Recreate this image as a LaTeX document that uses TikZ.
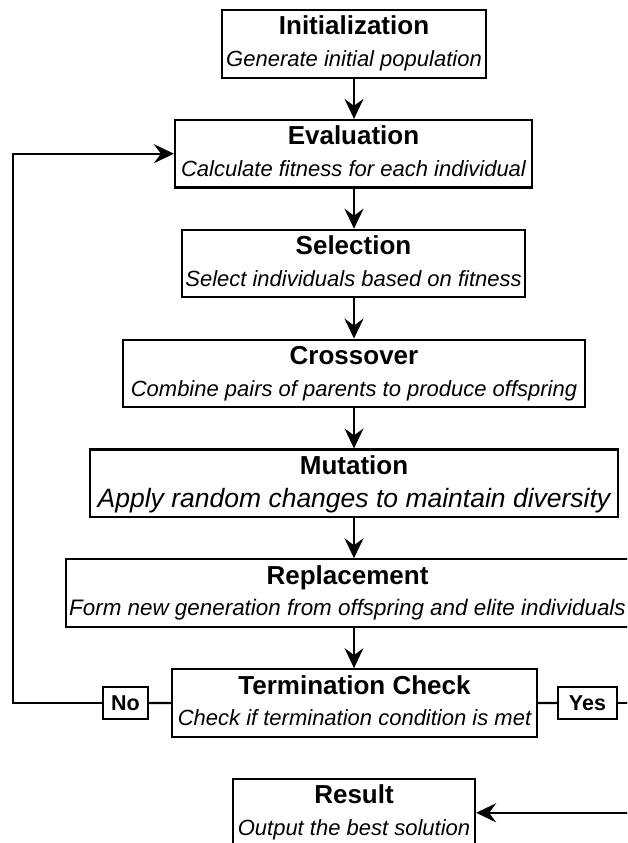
\documentclass[tikz,border=0pt]{standalone}
\usepackage{fontspec}
\setmainfont{Liberation Sans}
\usetikzlibrary{arrows.meta}
\begin{document}
\begin{tikzpicture}[x=1pt,y=-1pt,
  box/.style={draw=black, line width=2.2pt, fill=white, rectangle, minimum height=67.5pt, inner sep=0pt, anchor=north},
  head/.style={font=\fontsize{26}{26}\selectfont\bfseries, anchor=base, inner sep=0pt},
  sub/.style={font=\fontsize{22}{22}\selectfont\itshape, anchor=base, inner sep=0pt},
  lab/.style={draw=black, line width=2.2pt, fill=white, font=\fontsize{21.5}{21.5}\selectfont\bfseries, minimum height=32pt, inner sep=0pt},
  conn/.style={line width=2.2pt},
  arr/.style={conn, -{Stealth[length=20pt,width=19pt,inset=7pt]}}
]
\useasboundingbox (0,0) rectangle (627,843);
\clip (0,0) rectangle (627,843);

% boxes
\node[box, minimum width=264pt] (init)  at (354,9) {};
\node[box, minimum width=357pt] (eval)  at (353.5,118.85) {};
\node[box, minimum width=343pt] (sel)   at (353.5,228.7) {};
\node[box, minimum width=462pt] (cross) at (354,338.55) {};
\node[box, minimum width=528pt] (mut)   at (354,448.4) {};
\node[box, minimum width=563pt] (rep)   at (347.5,558.25) {};
\node[box, minimum width=365pt] (term)  at (354.5,668.1) {};
\node[box, minimum width=242pt] (res)   at (354,777.95) {};

% texts
\node[head] (initH) at (354,35) {Initialization};
\node[sub]  (initS) at (354,66.5) {Generate initial population};
\node[head] (evalH) at (353.5,144.85) {Evaluation};
\node[sub]  (evalS) at (353.5,176.35) {Calculate fitness for each individual};
\node[head] (selH) at (353.5,254.7) {Selection};
\node[sub]  (selS) at (353.5,286.2) {Select individuals based on fitness};
\node[head] (crossH) at (354,364.55) {Crossover};
\node[sub]  (crossS) at (354,396.05) {Combine pairs of parents to produce offspring};
\node[head] (mutH) at (354,474.4) {Mutation};
\node[sub, font=\fontsize{26.5}{26.5}\selectfont\itshape] (mutS) at (354,507.4) {Apply random changes to maintain diversity};
\node[head] (repH) at (347.5,584.25) {Replacement};
\node[sub, font=\fontsize{22.4}{22.4}\selectfont\itshape] (repS) at (347.5,615.75) {Form new generation from offspring and elite individuals};
\node[head] (termH) at (354.5,694.1) {Termination Check};
\node[sub]  (termS) at (354.5,725.6) {Check if termination condition is met};
\node[head] (resH) at (354,803.95) {Result};
\node[sub]  (resS) at (354,835.45) {Output the best solution};

% decision labels
\node[lab, minimum width=45pt] (no)  at (125.5,703) {No};
\node[lab, minimum width=59pt] (yes) at (587.5,703) {Yes};

% helper coordinates
\coordinate (loop) at (13,0);
\coordinate (turn) at (660,0);

% connectors
\draw[arr] (init.south) -- (init.south |- eval.north);
\draw[arr] (354,186.35) -- (354,228.7);
\draw[arr] (354,296.2) -- (354,338.55);
\draw[arr] (cross.south) -- (cross.south |- mut.north);
\draw[arr] (mut.south) -- (mut.south |- rep.north);
\draw[arr] (354,625.75) -- (354,668.1);
\draw[conn] (term.west) -- (no.east);
\draw[arr] (no.west) -| (loop |- eval.west) -- (eval.west);
\draw[conn] (term.east) -- (yes.west);
\draw[arr] (yes.east) -| (turn |- res.east) -- (res.east);
\end{tikzpicture}
\end{document}
